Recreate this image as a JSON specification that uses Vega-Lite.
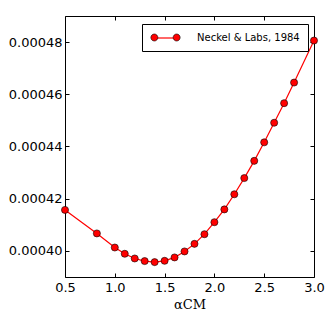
{
  "$schema": "https://vega.github.io/schema/vega-lite/v6.json",
  "width": 249,
  "height": 261,
  "autosize": {"type": "none"},
  "padding": {"left": 65, "top": 16, "right": 13, "bottom": 50},
  "background": "white",
  "config": {
    "font": "DejaVu Sans",
    "view": {"stroke": "black", "strokeWidth": 1},
    "axis": {"grid": false, "domain": false, "tickColor": "black", "tickWidth": 1, "labelColor": "black", "labelFontSize": 13, "labelFont": "DejaVu Sans"}
  },
  "data": {
    "values": [
      {"alpha": 0.5, "value": 0.0004157},
      {"alpha": 0.82, "value": 0.0004067},
      {"alpha": 1.0, "value": 0.0004013},
      {"alpha": 1.1, "value": 0.0003989},
      {"alpha": 1.2, "value": 0.0003971},
      {"alpha": 1.3, "value": 0.0003961},
      {"alpha": 1.4, "value": 0.0003957},
      {"alpha": 1.5, "value": 0.0003962},
      {"alpha": 1.6, "value": 0.0003975},
      {"alpha": 1.7, "value": 0.0003998},
      {"alpha": 1.8, "value": 0.0004027},
      {"alpha": 1.9, "value": 0.0004064},
      {"alpha": 2.0, "value": 0.000411},
      {"alpha": 2.1, "value": 0.0004159},
      {"alpha": 2.2, "value": 0.0004217},
      {"alpha": 2.3, "value": 0.0004279},
      {"alpha": 2.4, "value": 0.0004345},
      {"alpha": 2.5, "value": 0.0004416},
      {"alpha": 2.6, "value": 0.0004491},
      {"alpha": 2.7, "value": 0.0004566},
      {"alpha": 2.8, "value": 0.0004645},
      {"alpha": 3.0, "value": 0.0004806}
    ]
  },
  "layer": [
    {
      "mark": {"type": "line", "strokeWidth": 1.2, "clip": false},
      "encoding": {
        "x": {"field": "alpha", "type": "quantitative", "scale": {"domain": [0.5, 3.0], "nice": false, "zero": false},
          "axis": {"orient": "bottom", "values": [0.5, 1.0, 1.5, 2.0, 2.5, 3.0], "format": ".1f", "tickSize": -4, "labelPadding": 8, "labelFlush": false, "title": "αCM", "titleFont": "DejaVu Serif", "titleFontSize": 13, "titleFontWeight": "normal", "titleColor": "black", "titlePadding": 4}},
        "y": {"field": "value", "type": "quantitative", "scale": {"domain": [0.00039, 0.00049], "nice": false, "zero": false},
          "axis": {"orient": "left", "values": [0.0004, 0.00042, 0.00044, 0.00046, 0.00048], "format": ".5f", "tickSize": -4, "labelPadding": 7, "labelFlush": false, "title": null}},
        "stroke": {"datum": "Neckel & Labs, 1984", "type": "nominal", "scale": {"range": ["red"]},
          "legend": {"orient": "none", "legendX": 77, "legendY": 8, "title": null, "symbolType": "M-2.23,0L2.23,0", "symbolSize": 100, "symbolStrokeWidth": 1.2, "symbolStrokeColor": "red", "strokeColor": "black", "fillColor": "white", "padding": 8, "cornerRadius": 0, "labelFontSize": 10, "labelFont": "DejaVu Sans", "labelColor": "black", "symbolOffset": 10, "labelOffset": 25}}
      }
    },
    {
      "mark": {"type": "circle", "size": 50, "fill": "red", "stroke": "black", "strokeWidth": 0.6, "opacity": 1, "clip": false},
      "encoding": {
        "x": {"field": "alpha", "type": "quantitative",
          "axis": {"orient": "top", "values": [0.5, 1.0, 1.5, 2.0, 2.5, 3.0], "tickSize": -4, "labels": false, "title": null}},
        "y": {"field": "value", "type": "quantitative",
          "axis": {"orient": "right", "values": [0.0004, 0.00042, 0.00044, 0.00046, 0.00048], "tickSize": -4, "labels": false, "title": null}},
        "fill": {"datum": "Neckel & Labs, 1984 ", "type": "nominal", "scale": {"range": ["red"]},
          "legend": {"orient": "none", "legendX": 77, "legendY": 8, "title": null, "symbolType": "M-1.53,0A0.7,0.7 0 1,0 -2.93,0A0.7,0.7 0 1,0 -1.53,0Z M2.93,0A0.7,0.7 0 1,0 1.53,0A0.7,0.7 0 1,0 2.93,0Z", "symbolSize": 100, "symbolFillColor": "red", "symbolStrokeColor": "black", "symbolStrokeWidth": 0.6, "symbolOpacity": 1, "strokeColor": "transparent", "padding": 8, "cornerRadius": 0, "labelFontSize": 10, "labelFont": "DejaVu Sans", "labelColor": "transparent", "symbolOffset": 10, "labelOffset": 25}}
      }
    }
  ],
  "resolve": {"axis": {"x": "independent", "y": "independent"}}
}
